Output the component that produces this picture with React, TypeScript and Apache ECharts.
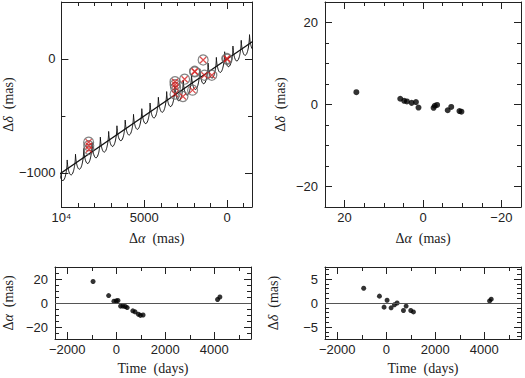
import React, { useEffect, useRef } from 'react';
import * as echarts from 'echarts';

// ---------- Top-left: measured positions (mas) ----------
const posRA = [8357, 8350, 8340, 3146, 3140, 3111, 3146, 2567, 2665, 2086, 1953, 1960, 1448, 1373, 927, 0, 15];
const posDec = [-731, -762, -795, -200, -226, -251, -309, -178, -330, -274, -114, -108, -9, -143, -143, -3, 4];

// Model (proper motion + parallax) parameters
const PM_RA = 500;          // mas / yr along decreasing Δα
const PM_SLOPE = -0.1;      // Δδ per Δα of the proper-motion track
const PLX_DEC = 78;         // mas, amplitude of the parallax wiggle in Δδ
const CUSP_RA = 150;        // Δα of one cusp
const TRACK_RA = [10100, -1600];

// ---------- Top-right: residuals (mas) ----------
const resRA = [17.0, 5.8, 4.8, 4.1, 2.9, 1.8, 1.15, -2.7, -3.0, -3.6, -6.3, -7.2, -9.3, -9.8];
const resDec = [3.0, 1.4, 0.9, 0.75, 0.4, 0.6, -0.75, -0.8, -0.3, -0.1, -1.4, -0.6, -1.6, -1.75];

// ---------- Bottom-left: Δα residual vs time ----------
const timeA = [-946, -311, -95, 0, 68, 176, 270, 365, 446, 676, 770, 905, 986, 1095, 4135, 4230];
const dRA = [17.9, 6.2, 1.5, 1.8, 2.1, -2.6, -2.6, -2.9, -3.8, -6.5, -7.4, -9.4, -10.3, -10.0, 2.9, 5.0];

// ---------- Bottom-right: Δδ residual vs time ----------
const timeD = [-920, -279, -89, 34, 198, 334, 443, 702, 811, 1001, 1110, 4217, 4285];
const dDec = [3.07, 1.43, -0.86, 0.57, -1.0, -0.36, 0.0, -1.57, -0.64, -1.57, -1.86, 0.43, 0.79];

// ---------- Tick values ----------
const tlXMajor = [10000, 5000, 0];
const tlXMinor = [9000, 8000, 7000, 6000, 4000, 3000, 2000, 1000, -1000];
const tlYMajor = [0, -1000];
const tlYMinor = [-500];
const trMajor = [20, 0, -20];
const trMinor = [15, 10, 5, -5, -10, -15];
const timeMajor = [-2000, 0, 2000, 4000];
const timeMinor = [-1000, 1000, 3000, 5000];
const blYMajor = [20, 0, -20];
const blYMinor = [25, 15, 10, 5, -5, -10, -15, -25];
const brYMajor = [5, 0, -5];
const brYMinor = [7, 6, 4, 3, 2, 1, -1, -2, -3, -4, -6, -7];

const INK = '#222';
const SANS = 'Liberation Sans';
const SERIF = 'Liberation Serif';

const fmt = (v: number) => (v === 10000 ? '10\u2074' : String(v).replace('-', '\u2212'));

type Spec = {
  grid: number; dim: 'x' | 'y'; min: number; max: number; inverse?: boolean;
  majors: number[]; minors: number[]; name: string; nameGap: number; labelMargin: number;
};

const xAxes: any[] = [];
const yAxes: any[] = [];

function addAxes(s: Spec): number {
  const list = s.dim === 'x' ? xAxes : yAxes;
  const sides = s.dim === 'x' ? ['bottom', 'top'] : ['left', 'right'];
  const mainIndex = list.length;
  const base = { type: 'value', gridIndex: s.grid, min: s.min, max: s.max, inverse: !!s.inverse, splitLine: { show: false } };
  sides.forEach((pos, k) => {
    list.push({
      ...base,
      position: pos,
      axisLine: { show: true, onZero: false, lineStyle: { color: INK, width: 1 } },
      axisTick: { show: true, inside: true, length: 7, customValues: s.majors, lineStyle: { color: INK, width: 1 } },
      axisLabel: k === 0
        ? { show: true, customValues: s.majors, margin: s.labelMargin, fontSize: 13, fontFamily: SANS, color: INK, formatter: fmt }
        : { show: false },
      name: k === 0 ? s.name : '',
      nameLocation: 'middle',
      nameGap: s.nameGap,
      nameTextStyle: {
        fontFamily: SERIF, fontSize: 14, color: INK,
        rich: { i: { fontFamily: SERIF, fontSize: 14, fontStyle: 'italic', color: INK } },
      },
    });
  });
  sides.forEach((pos) => {
    list.push({
      ...base,
      position: pos,
      axisLine: { show: false, onZero: false },
      axisTick: { show: true, inside: true, length: 4, customValues: s.minors, lineStyle: { color: INK, width: 1 } },
      axisLabel: { show: false },
    });
  });
  return mainIndex;
}

function buildOption() {
  xAxes.length = 0;
  yAxes.length = 0;
  const grids = [
    { left: 53, top: 2, width: 199, height: 205 },
    { left: 325, top: 2, width: 196, height: 205 },
    { left: 53, top: 267, width: 198, height: 72 },
    { left: 325, top: 267, width: 196, height: 72 },
  ];
  const tlx = addAxes({ grid: 0, dim: 'x', min: -1500, max: 10000, inverse: true, majors: tlXMajor, minors: tlXMinor, name: 'Δ{i|α}  (mas)', nameGap: 24, labelMargin: 4 });
  const tly = addAxes({ grid: 0, dim: 'y', min: -1300, max: 500, majors: tlYMajor, minors: tlYMinor, name: 'Δ{i|δ}  (mas)', nameGap: 32, labelMargin: 6 });
  const trx = addAxes({ grid: 1, dim: 'x', min: -25, max: 25, inverse: true, majors: trMajor, minors: trMinor, name: 'Δ{i|α}  (mas)', nameGap: 24, labelMargin: 4 });
  const tr_y = addAxes({ grid: 1, dim: 'y', min: -25, max: 25, majors: trMajor, minors: trMinor, name: 'Δ{i|δ}  (mas)', nameGap: 38, labelMargin: 7 });
  const blx = addAxes({ grid: 2, dim: 'x', min: -2500, max: 5500, majors: timeMajor, minors: timeMinor, name: 'Time  (days)', nameGap: 22, labelMargin: 4 });
  const bly = addAxes({ grid: 2, dim: 'y', min: -30, max: 30, majors: blYMajor, minors: blYMinor, name: 'Δ{i|α}  (mas)', nameGap: 40, labelMargin: 7 });
  const brx = addAxes({ grid: 3, dim: 'x', min: -2500, max: 5500, majors: timeMajor, minors: timeMinor, name: 'Time  (days)', nameGap: 22, labelMargin: 4 });
  const bry = addAxes({ grid: 3, dim: 'y', min: -7.5, max: 7.5, majors: brYMajor, minors: brYMinor, name: 'Δ{i|δ}  (mas)', nameGap: 45, labelMargin: 7 });

  // model track
  const t0 = (CUSP_RA - TRACK_RA[0]) / PM_RA;
  const t1 = (CUSP_RA - TRACK_RA[1]) / PM_RA;
  const curve: number[][] = [];
  const plxRA = PM_RA / (2 * Math.PI);
  for (let t = t0; t <= t1; t += 1 / 60) {
    const ra0 = CUSP_RA - PM_RA * t;
    curve.push([ra0 + plxRA * Math.sin(2 * Math.PI * t), PM_SLOPE * ra0 + PLX_DEC * Math.cos(2 * Math.PI * t)]);
  }
  const pmLine = TRACK_RA.map((ra) => [ra, PM_SLOPE * ra]);

  const zeroLine = {
    silent: true, symbol: 'none', label: { show: false },
    lineStyle: { color: '#555', width: 1, type: 'solid' },
    data: [{ yAxis: 0 }],
  };

  return {
    animation: false,
    grid: grids,
    xAxis: xAxes,
    yAxis: yAxes,
    series: [
      {
        type: 'line', xAxisIndex: tlx, yAxisIndex: tly, data: curve, showSymbol: false,
        lineStyle: { color: '#111', width: 1 }, clip: true, z: 2,
      },
      {
        type: 'line', xAxisIndex: tlx, yAxisIndex: tly, data: pmLine, showSymbol: false,
        lineStyle: { color: '#111', width: 1.2 }, clip: true, z: 2,
      },
      {
        type: 'scatter', xAxisIndex: tlx, yAxisIndex: tly, symbol: 'circle', symbolSize: 10,
        data: posRA.map((x, i) => [x, posDec[i]]),
        itemStyle: { color: 'rgba(255,255,255,0)', borderColor: '#666', borderWidth: 1.2 }, z: 3,
      },
      {
        type: 'scatter', xAxisIndex: tlx, yAxisIndex: tly, symbol: 'path://M0 0L10 10M10 0L0 10', symbolSize: 6,
        data: posRA.map((x, i) => [x, posDec[i]]),
        itemStyle: { color: 'rgba(255,255,255,0)', borderColor: '#d62020', borderWidth: 1.2 }, z: 4,
      },
      {
        type: 'scatter', xAxisIndex: trx, yAxisIndex: tr_y, symbol: 'circle', symbolSize: 6,
        data: resRA.map((x, i) => [x, resDec[i]]), itemStyle: { color: '#000' },
      },
      {
        type: 'scatter', xAxisIndex: blx, yAxisIndex: bly, symbol: 'circle', symbolSize: 5,
        data: timeA.map((x, i) => [x, dRA[i]]), itemStyle: { color: '#000' }, markLine: zeroLine,
      },
      {
        type: 'scatter', xAxisIndex: brx, yAxisIndex: bry, symbol: 'circle', symbolSize: 5,
        data: timeD.map((x, i) => [x, dDec[i]]), itemStyle: { color: '#000' }, markLine: zeroLine,
      },
    ],
  };
}

export default function App() {
  const ref = useRef<HTMLDivElement>(null);
  useEffect(() => {
    if (!ref.current) return;
    const chart = echarts.init(ref.current, undefined, { renderer: 'svg' });
    chart.setOption(buildOption() as any);
    return () => chart.dispose();
  }, []);
  return (
    <div
      ref={ref}
      style={{ position: 'absolute', left: 0, top: 0, width: 525, height: 378, background: '#fff' }}
    />
  );
}
